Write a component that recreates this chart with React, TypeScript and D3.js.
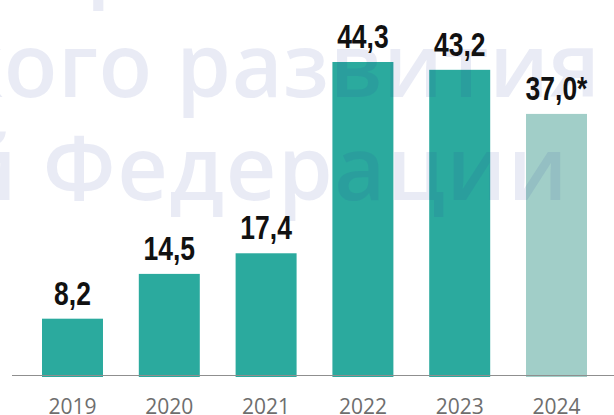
import React, { useLayoutEffect, useRef } from "react";
import * as d3 from "d3";

const years: string[] = ["2019", "2020", "2021", "2022", "2023", "2024"];
const values: number[] = [8.2, 14.5, 17.4, 44.3, 43.2, 37.0];
const estimated: boolean[] = [false, false, false, false, false, true];
const watermarkLines: string[] = ["Министерство", "кого развития", "й Федерации"];

const W = 614;
const H = 415;

export default function App() {
  const line0Ref = useRef<SVGTextElement>(null);

  const x = d3
    .scaleBand<string>()
    .domain(years)
    .range([42, 587])
    .paddingInner(0.37)
    .paddingOuter(0);
  const y = d3.scaleLinear().domain([0, 44.3]).range([377, 62]);
  const fmt = (v: number) => d3.format(".1f")(v).replace(".", ",");

  useLayoutEffect(() => {
    const el = line0Ref.current;
    if (!el) return;
    try {
      const pos = el.getStartPositionOfChar(7);
      const cur = Number(el.getAttribute("x")) || 0;
      el.setAttribute("x", String(cur + (86 - pos.x)));
    } catch (e) {}
  }, []);

  return (
    <svg
      width={W}
      height={H}
      viewBox={`0 0 ${W} ${H}`}
      style={{ position: "absolute", left: 0, top: 0, background: "#fff" }}
    >
      <rect x={0} y={0} width={W} height={H} fill="#ffffff" />
      {years.map((yr, i) => (
        <rect
          key={yr}
          x={x(yr)}
          y={y(values[i])}
          width={x.bandwidth()}
          height={y(0) - y(values[i])}
          fill={estimated[i] ? "#a1cec8" : "#2baa9e"}
        />
      ))}
      <line x1={12} x2={W} y1={375.5} y2={375.5} stroke="#8f8f8f" strokeWidth={1.2} />
      <g
        fill="rgb(40,60,160)"
        fillOpacity={0.1}
        fontFamily="'Open Sans', sans-serif"
        fontWeight={600}
        fontSize={88}
      >
        <text ref={line0Ref} x={0} y={-10}>
          {watermarkLines[0]}
        </text>
        <text x={600.5} y={97} textAnchor="end" letterSpacing={0.6}>
          {watermarkLines[1]}
        </text>
        <text x={569} y={200} textAnchor="end" letterSpacing={1.6}>
          {watermarkLines[2]}
        </text>
      </g>
      {years.map((yr, i) => (
        <text
          key={"v" + yr}
          transform={`translate(${(x(yr) as number) + x.bandwidth() / 2},${y(values[i]) - 14}) scale(0.79,1)`}
          textAnchor="middle"
          fontFamily="'Liberation Sans', Arial, sans-serif"
          fontWeight={700}
          fontSize={33.5}
          fill="#111111"
        >
          {fmt(values[i]) + (estimated[i] ? "*" : "")}
        </text>
      ))}
      {years.map((yr) => (
        <text
          key={"t" + yr}
          x={(x(yr) as number) + x.bandwidth() / 2}
          y={414}
          textAnchor="middle"
          fontFamily="'Open Sans', sans-serif"
          fontSize={21}
          fill="#6e6e6e"
        >
          {yr}
        </text>
      ))}
    </svg>
  );
}
